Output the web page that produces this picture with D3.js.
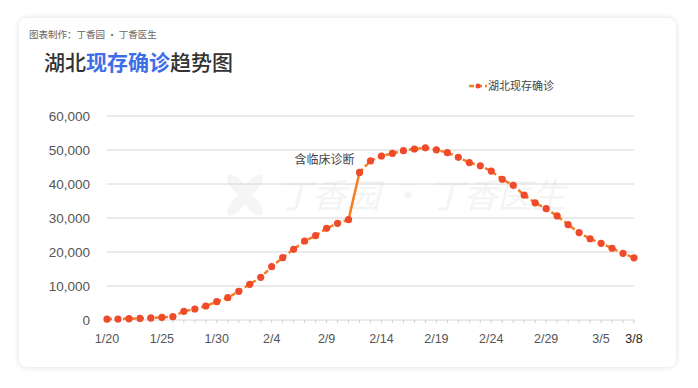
<!DOCTYPE html>
<html>
<head>
<meta charset="utf-8">
<script src="https://cdn.jsdelivr.net/npm/d3@7"></script>
<style>
  body { margin: 0; background: #fff; font-family: "Noto Sans CJK SC", "Liberation Sans", sans-serif; }
  #card {
    position: absolute; left: 19px; top: 18px; width: 657px; height: 349px;
    background: #fff; border-radius: 8px;
    box-shadow: 0 0 6px rgba(0,0,0,0.13);
  }
  svg { position: absolute; left: 0; top: 0; }
</style>
</head>
<body>
<div id="card"></div>
<div id="chart"></div>
<script>
// 湖北现存确诊, 1/20 - 3/8 (2020)
const dates = d3.timeDay.range(new Date(2020, 0, 20), new Date(2020, 2, 9));
const values = [
  240, 300, 390, 450, 600, 800, 980, 2560, 3240, 4120,
  5380, 6560, 8440, 10500, 12560, 15680, 18330, 20790, 23240, 24800,
  26960, 28440, 29500, 43400, 46800, 48240, 49000, 49800, 50300, 50650,
  50050, 49200, 47850, 46300, 45350, 43800, 41400, 39600, 36700, 34450,
  32750, 30600, 28050, 25700, 23900, 22550, 21100, 19600, 18300
];
const yTicks = [0, 10000, 20000, 30000, 40000, 50000, 60000];
const xTickLabels = ['1/20', '1/25', '1/30', '2/4', '2/9', '2/14', '2/19', '2/24', '2/29', '3/5', '3/8'];
const jumpIndex = 22; // 2/11 -> 2/12, 临床诊断纳入

const data = dates.map((d, i) => ({ date: d, value: values[i] }));

const W = 698, H = 388;
const svg = d3.select('#chart').append('svg')
    .attr('width', W)
    .attr('height', H);

const x = d3.scaleTime()
    .domain([dates[0], dates[dates.length - 1]])
    .range([107, 634]);
const y = d3.scaleLinear()
    .domain([0, 60000])
    .range([320, 116]);

// header
svg.append('text')
    .attr('x', 29).attr('y', 38)
    .style('font-size', '9.5px')
    .style('fill', '#666')
    .text('图表制作：丁香园 · 丁香医生');

const title = svg.append('text')
    .attr('x', 44).attr('y', 70)
    .style('font-size', '21px')
    .style('font-weight', 500)
    .style('fill', '#333');
title.append('tspan').text('湖北');
title.append('tspan').style('fill', '#3d6ee8').style('font-weight', 'bold').text('现存确诊');
title.append('tspan').text('趋势图');

// watermark
const wm = svg.append('g').attr('transform', 'translate(245,195)').style('fill', '#f5f5f5');
[-40, 40, 140, 220].forEach(a => {
  wm.append('ellipse')
      .attr('rx', 6).attr('ry', 14)
      .attr('transform', `rotate(${a}) translate(0,-12)`);
});
svg.append('text')
    .attr('x', 278).attr('y', 208)
    .style('font-size', '34px')
    .style('font-style', 'italic')
    .style('fill', '#f4f4f4')
    .text('丁香园 · 丁香医生');

// grid + y labels
svg.append('g')
    .selectAll('line')
    .data(yTicks.slice(1))
    .join('line')
    .attr('x1', 107).attr('x2', 634)
    .attr('y1', d => y(d)).attr('y2', d => y(d))
    .style('stroke', '#d6d6d6')
    .style('stroke-width', 1);

svg.append('g')
    .selectAll('text')
    .data(yTicks)
    .join('text')
    .attr('x', 90)
    .attr('y', d => y(d) + 4.5)
    .attr('text-anchor', 'end')
    .style('font-family', '"Liberation Sans", sans-serif')
    .style('font-size', '13.5px')
    .style('fill', '#555')
    .text(d => d3.format(',')(d));

// x axis
const xAxis = svg.append('g').attr('transform', 'translate(0,320)');
xAxis.append('line')
    .attr('x1', 107).attr('x2', 634)
    .style('stroke', '#d6d6d6');
xAxis.selectAll('line.tick')
    .data(dates)
    .join('line')
    .attr('class', 'tick')
    .attr('x1', d => x(d)).attr('x2', d => x(d))
    .attr('y1', 0).attr('y2', 3)
    .style('stroke', '#d0d0d0');

const fmt = d3.timeFormat('%-m/%-d');
xAxis.selectAll('text')
    .data(dates.filter(d => xTickLabels.includes(fmt(d))))
    .join('text')
    .attr('x', d => x(d))
    .attr('y', 23)
    .attr('text-anchor', 'middle')
    .style('font-family', '"Liberation Sans", sans-serif')
    .style('font-size', '12.5px')
    .style('fill', d => fmt(d) === '3/8' ? '#222' : '#555')
    .text(d => fmt(d));

// line
const line = d3.line().x(d => x(d.date)).y(d => y(d.value));
const lineColor = '#f57f20', dotColor = '#f04a2c';

svg.append('path')
    .datum(data.slice(0, jumpIndex + 1))
    .attr('d', line)
    .style('fill', 'none').style('stroke', lineColor)
    .style('stroke-width', 2.5).style('stroke-dasharray', '5,3');
svg.append('path')
    .datum(data.slice(jumpIndex, jumpIndex + 2))
    .attr('d', line)
    .style('fill', 'none').style('stroke', lineColor)
    .style('stroke-width', 2.5);
svg.append('path')
    .datum(data.slice(jumpIndex + 1))
    .attr('d', line)
    .style('fill', 'none').style('stroke', lineColor)
    .style('stroke-width', 2.5).style('stroke-dasharray', '5,3');

svg.append('g')
    .selectAll('circle')
    .data(data)
    .join('circle')
    .attr('cx', d => x(d.date))
    .attr('cy', d => y(d.value))
    .attr('r', 3.6)
    .style('fill', dotColor);

// annotation
const jp = data[jumpIndex + 1];
svg.append('text')
    .attr('x', x(jp.date) - 5)
    .attr('y', y(jp.value) - 8)
    .attr('text-anchor', 'end')
    .style('font-size', '12px')
    .style('fill', '#444')
    .text('含临床诊断');

// legend
const lg = svg.append('g').attr('transform', 'translate(469,86)');
lg.append('line')
    .attr('x1', 0).attr('x2', 18)
    .style('stroke', lineColor).style('stroke-width', 2.5)
    .style('stroke-dasharray', '5,3');
lg.append('circle').attr('cx', 9).attr('r', 2.5).style('fill', dotColor);
lg.append('text')
    .attr('x', 19).attr('y', 4)
    .style('font-size', '11px')
    .style('fill', '#444')
    .text('湖北现存确诊');
</script>
</body>
</html>
